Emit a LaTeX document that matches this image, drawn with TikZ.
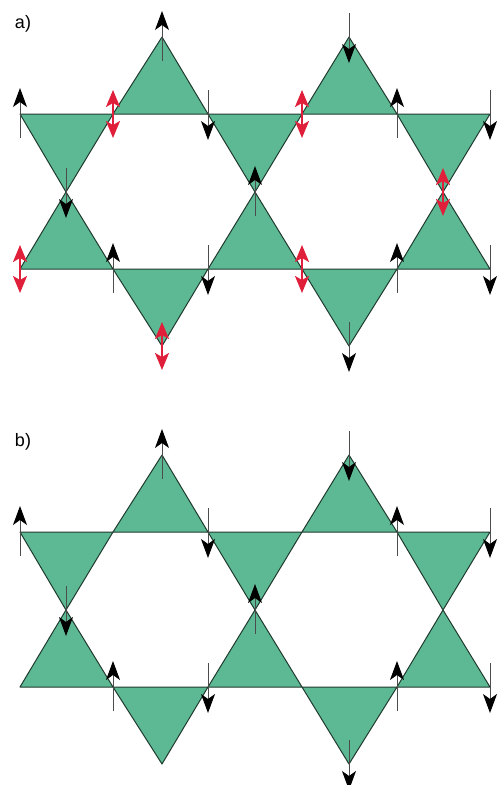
\documentclass[tikz,border=0pt]{standalone}
\usepackage{fontspec}
\setsansfont{Liberation Sans}
\usetikzlibrary{arrows.meta}
\definecolor{cTri}{HTML}{5DB994}
\definecolor{cEdge}{HTML}{1F3A2E}
\definecolor{cFlip}{HTML}{E0203A}
\tikzset{
  tri/.style={fill=cTri,draw=cEdge,line width=1pt,line join=round},
  spin/.style={line width=1pt,black!70,-{Stealth[length=19pt,width=14pt,inset=5pt,black]}},
  flip/.style={line width=2pt,cFlip,{Stealth[length=17pt,width=14pt,inset=4pt]}-{Stealth[length=17pt,width=14pt,inset=4pt]}},
  tag/.style={font=\sffamily\fontsize{18}{21}\selectfont,inner sep=0pt},
}
\newcommand\spinUp[1]{\draw[spin] (#1) ++(0,24) -- ++(0,-50);}
\newcommand\spinDn[1]{\draw[spin] (#1) ++(0,-24) -- ++(0,50);}
\newcommand\flipAt[1]{\draw[flip] (#1) ++(0,24) -- ++(0,-48);}

\begin{document}
\begin{tikzpicture}[x=1pt,y=-1pt]
  \useasboundingbox (0,0) rectangle (499,785);
  \foreach \p/\dy in {a/0,b/418}{
    % lattice sites
    \foreach \n/\x in {1/20,2/113,3/208,4/302,5/397,6/490}{
      \coordinate (\p t\n) at (\x,114+\dy);
      \coordinate (\p l\n) at (\x,269+\dy);
    }
    \foreach \n/\x in {1/162,2/349}{
      \coordinate (\p u\n) at (\x,37+\dy);
      \coordinate (\p d\n) at (\x,346+\dy);
    }
    \foreach \n/\x in {1/66,2/255,3/443}{\coordinate (\p m\n) at (\x,192+\dy);}
    \node[tag] (\p lab) at (23,24+\dy) {\p)};
    % corner-sharing triangles
    \foreach \A/\B/\C in {t2/t3/u1,t4/t5/u2,l1/l2/m1,l3/l4/m2,l5/l6/m3,t1/t2/m1,t3/t4/m2,t5/t6/m3,l2/l3/d1,l4/l5/d2}
      \draw[tri] (\p\A) -- (\p\B) -- (\p\C) -- cycle;
    % spins
    \foreach \s in {t1,t5,u1,m2,l2,l5}{\spinUp{\p\s}}
    \foreach \s in {t3,t6,u2,m1,l3,l6,d2}{\spinDn{\p\s}}
  }
  \foreach \s in {t2,t4,m3,l1,l4,d1}{\flipAt{a\s}}
\end{tikzpicture}
\end{document}
